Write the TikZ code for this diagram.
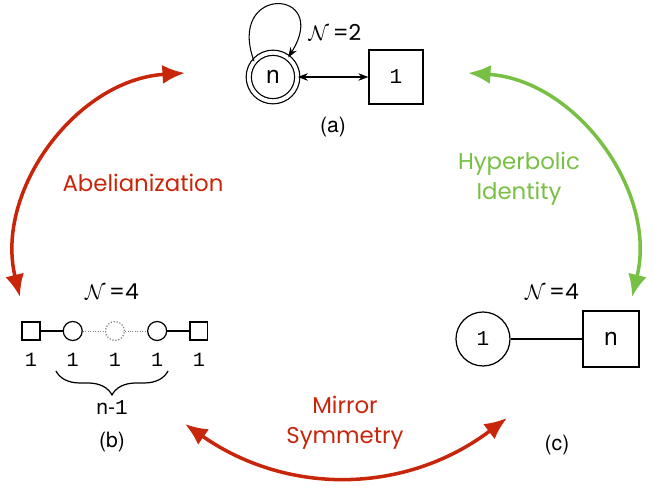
\documentclass[tikz,border=0pt]{standalone}
\usepackage{fontspec}
\setmainfont{TeX Gyre Heros}
\newfontfamily\comicfont{Poppins}
\newfontfamily\digitfont{Liberation Mono}
\usepackage{amsmath,amssymb}
\usetikzlibrary{arrows.meta,positioning,decorations.pathreplacing,calc}
\definecolor{dualred}{RGB}{200,38,10}
\definecolor{dualgreen}{RGB}{120,192,68}

\begin{document}
\begin{tikzpicture}[x=0.02cm, y=0.02cm,
  every node/.style={font=\fontsize{12}{14}\selectfont},
  gauge/.style={draw, circle, line width=0.7pt, inner sep=0pt},
  flavor/.style={draw, rectangle, line width=0.7pt, inner sep=0pt},
  rank/.style={font=\digitfont\fontsize{11.5}{13}\selectfont, inner sep=1pt},
  susy/.style={font=\fontsize{12.5}{14}\selectfont},
  duality/.style={line width=2pt, {Latex[length=4.5mm,width=3.8mm]}-{Latex[length=4.5mm,width=3.8mm]}},
  dualname/.style={font=\comicfont\fontsize{13}{17}\selectfont, align=center},
  node distance=4.4mm]
  \useasboundingbox (0,0) rectangle (654,491);

  % (a)
  \node[gauge, double, double distance=2.2pt, minimum size=9.7mm, font=\fontsize{14}{16}\selectfont] (na) at (273,414) {n};
  \node[flavor, minimum size=10.8mm] (fa) at (396,414) {\digitfont 1};
  \draw[line width=0.6pt, {Stealth[length=2mm]}-{Stealth[length=2mm]}] (na) -- (fa);
  \draw[line width=0.6pt, -{Stealth[length=2mm]}] (na.140) .. controls +(110:82) and +(58:82) .. (na.52);
  \node[susy] (sa) at (335,459) {$\mathcal{N}${\comicfont\,=2}};
  \node (la) at (333,364) {(a)};

  % (b)
  \node[flavor, minimum size=3.6mm] (f1) at (31,160) {};
  \node[gauge, minimum size=3.8mm, right=of f1] (g1) {};
  \node[gauge, minimum size=3.8mm, densely dotted, draw=gray, right=of g1] (g2) {};
  \node[gauge, minimum size=3.8mm, right=of g2] (g3) {};
  \node[flavor, minimum size=3.6mm, right=of g3] (f2) {};
  \draw[line width=0.7pt] (f1) -- (g1);
  \draw[densely dotted, gray] (g1) -- (g2);
  \draw[densely dotted, gray] (g2) -- (g3);
  \draw[line width=0.7pt] (g3) -- (f2);
  \node[rank, below=2mm of f1] (r1) {1};
  \node[rank, below=2mm of g1] (r2) {1};
  \node[rank, below=2mm of g2] (r3) {1};
  \node[rank, below=2mm of g3] (r4) {1};
  \node[rank, below=2mm of f2] (r5) {1};
  \draw[line width=0.7pt, decorate, decoration={brace, mirror, amplitude=4.8mm}] (56,120) -- (168,120);
  \node (nb) at (112,83) {n-{\digitfont 1}};
  \node[susy] (sb) at (112,199) {$\mathcal{N}${\comicfont\,=4}};
  \node (lb) at (112,49) {(b)};

  % (c)
  \node[gauge, minimum size=10.8mm] (gc) at (483,152) {\digitfont 1};
  \node[flavor, minimum size=11.2mm, font=\fontsize{14}{16}\selectfont] (fc) at (611,152) {n};
  \draw[line width=0.7pt] (gc) -- (fc);
  \node[susy] (sc) at (552,199) {$\mathcal{N}${\comicfont\,=4}};
  \node (lc) at (557,46) {(c)};

  % dualities
  \coordinate (ab1) at (20,194);
  \coordinate (ab2) at (185,418);
  \coordinate (hy1) at (632,194);
  \coordinate (hy2) at (468,418);
  \coordinate (mi1) at (185,67);
  \coordinate (mi2) at (507,73);
  \draw[duality, dualred] (ab1) to[bend left=50] (ab2);
  \draw[duality, dualgreen] (hy1) to[bend right=50] (hy2);
  \draw[duality, dualred] (mi1) to[bend right=36] (mi2);
  \node[dualname, text=dualred] (abel) at (143,308) {Abelianization};
  \node[dualname, text=dualgreen] (hyper) at (519,312) {Hyperbolic\\Identity};
  \node[dualname, text=dualred] (mirror) at (345,68) {Mirror\\Symmetry};
\end{tikzpicture}
\end{document}
